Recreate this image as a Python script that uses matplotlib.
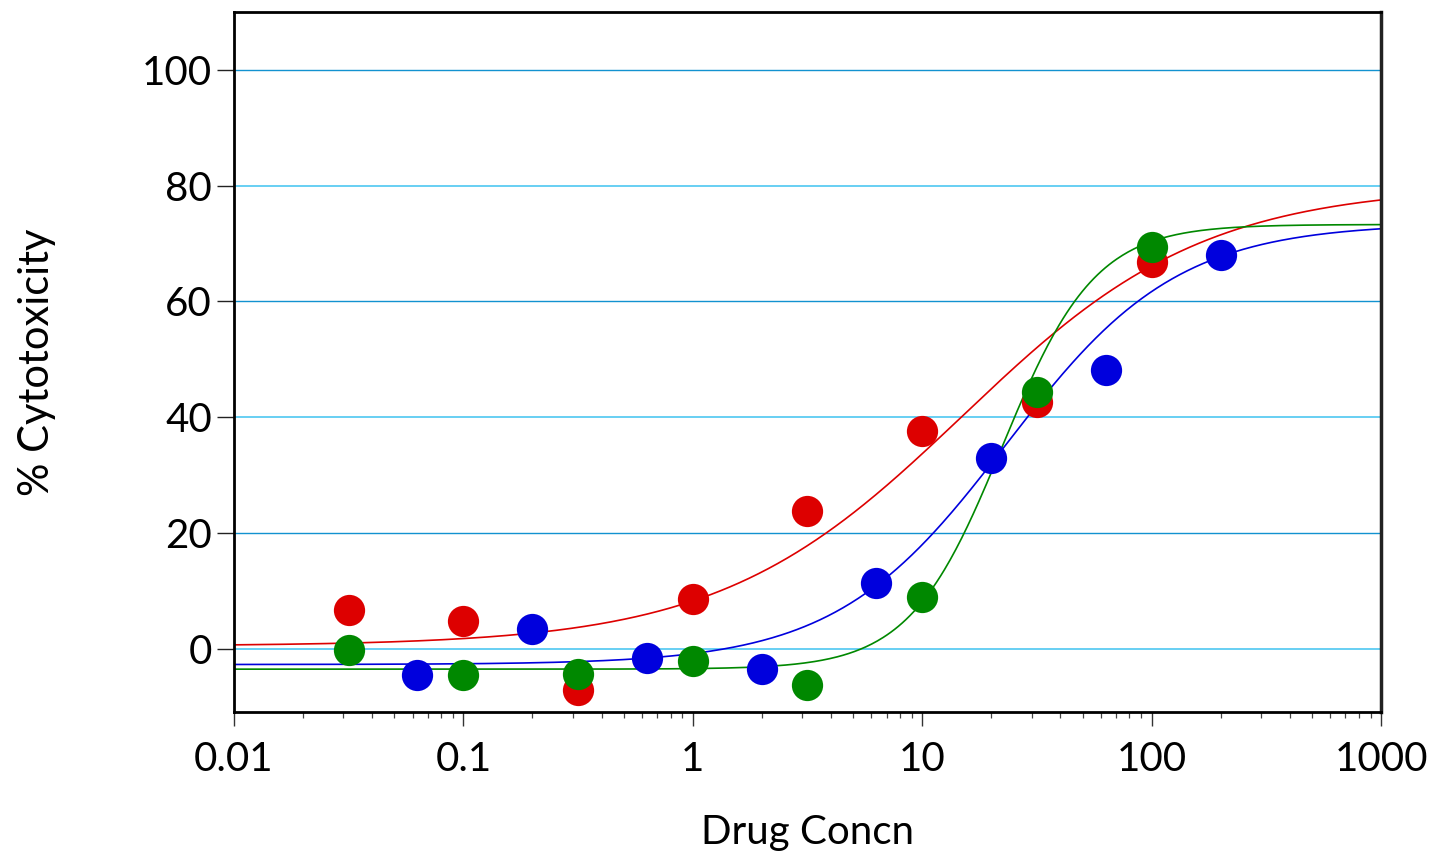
import numpy as np
import matplotlib
matplotlib.use("Agg")
import matplotlib.pyplot as plt
from matplotlib.ticker import LogLocator, FixedLocator, NullFormatter

plt.rcParams['font.family'] = ['Lato', 'DejaVu Sans']

# ---- data ----
red_x = [0.0316, 0.1, 0.316, 1, 3.16, 10, 31.6, 100]
red_y = [6.7, 4.8, -7.1, 8.6, 23.8, 37.6, 42.7, 66.8]

blue_x = [0.063, 0.2, 0.63, 2, 6.3, 20, 63, 200]
blue_y = [-4.5, 3.5, -1.6, -3.5, 11.4, 33.0, 48.2, 68.0]

green_x = [0.0316, 0.1, 0.316, 1, 3.16, 10, 31.6, 100]
green_y = [-0.2, -4.5, -4.3, -2.1, -6.2, 9.0, 44.4, 69.4]

# 4-parameter logistic fit parameters: bottom, top, EC50, Hill slope
red_fit = [0.5, 80.0, 15.0, 0.82]
blue_fit = [-2.7, 73.5, 23.3, 1.166]
green_fit = [-3.5, 73.3, 22.3, 2.15]

x_ticks = [0.01, 0.1, 1, 10, 100, 1000]
x_tick_labels = ['0.01', '0.1', '1', '10', '100', '1000']
y_ticks = [0, 20, 40, 60, 80, 100]
y_tick_labels = ['0', '20', '40', '60', '80', '100']

RED = '#dd0000'
BLUE = '#0000dd'
GREEN = '#008800'


def logistic(x, p):
    bottom, top, ec50, h = p
    return bottom + (top - bottom) / (1.0 + (ec50 / x) ** h)


fig = plt.figure(figsize=(14.45, 8.58), dpi=100)
ax = fig.add_axes([234 / 1445, 1 - 712 / 858, (1381 - 234) / 1445, (712 - 12) / 858])

ax.set_xscale('log')
ax.set_xlim(0.01, 1000)
ax.set_ylim(-10.9, 110)

# gridlines
for yv in y_ticks:
    if yv in (0, 40, 80):
        ax.axhline(yv, color='#5ccbf2', lw=1.3, zorder=1)
    else:
        ax.axhline(yv, color='#1292d0', lw=1.0, zorder=1)

xx = np.logspace(-2, 3, 600)
for p, c in ((red_fit, RED), (blue_fit, BLUE), (green_fit, GREEN)):
    ax.plot(xx, logistic(xx, p), color=c, lw=1.2, zorder=2)

ms = 22.5
ax.plot(red_x, red_y, 'o', color=RED, ms=ms, mew=0, zorder=3)
ax.plot(blue_x, blue_y, 'o', color=BLUE, ms=ms, mew=0, zorder=3)
ax.plot(green_x, green_y, 'o', color=GREEN, ms=ms, mew=0, zorder=3)

ax.xaxis.set_major_locator(FixedLocator(x_ticks))
ax.set_xticklabels(x_tick_labels)
ax.xaxis.set_minor_locator(LogLocator(base=10, subs=np.arange(2, 10)))
ax.xaxis.set_minor_formatter(NullFormatter())
ax.set_yticks(y_ticks)
ax.set_yticklabels(y_tick_labels)

ax.tick_params(axis='x', which='major', direction='out', length=10, width=1.0,
               color='#333333', labelsize=29, pad=11)
ax.tick_params(axis='x', which='minor', direction='out', length=4.5, width=0.9,
               color='#444444')
ax.tick_params(axis='y', which='major', direction='out', length=12, width=1.0,
               color='#222222', labelsize=29, pad=4)

for s in ax.spines.values():
    s.set_linewidth(2.0)
    s.set_color('black')
ax.spines['right'].set_color('#222222')
ax.spines['right'].set_linewidth(2.5)

ax.set_xlabel('Drug Concn', fontsize=29, labelpad=26)
ax.set_ylabel('% Cytotoxicity', fontsize=30, labelpad=62)

fig.savefig('out.png', dpi=100)
